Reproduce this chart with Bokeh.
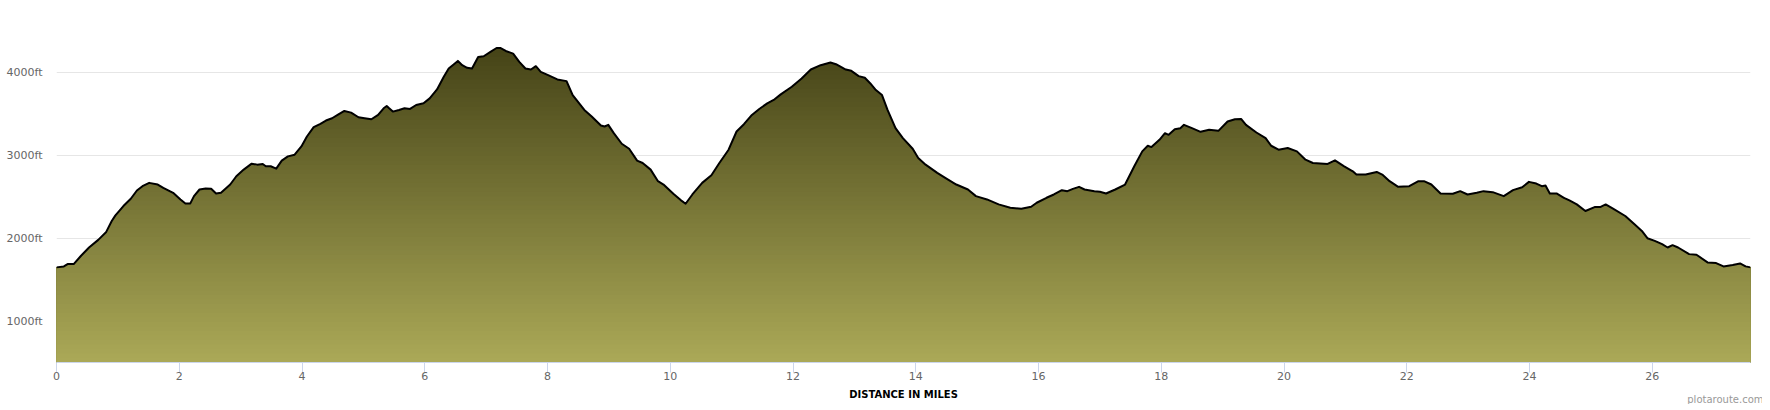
import numpy as np
from bokeh.plotting import figure
from bokeh.models import FixedTicker, PrintfTickFormatter, Range1d, Label
from bokeh.embed import file_html
from bokeh.resources import INLINE

distance_mi = [
    0.00, 0.12, 0.18, 0.28, 0.40, 0.53, 0.68, 0.81, 0.90, 0.96, 1.09, 1.21, 1.31, 1.40, 1.51, 1.65,
    1.74, 1.90, 2.02, 2.10, 2.18, 2.24, 2.33, 2.43, 2.52, 2.60, 2.68, 2.83, 2.93, 3.05, 3.18, 3.27,
    3.36, 3.41, 3.49, 3.58, 3.67, 3.77, 3.88, 3.99, 4.08, 4.19, 4.30, 4.39, 4.49, 4.58, 4.69, 4.80,
    4.92, 5.02, 5.13, 5.24, 5.33, 5.38, 5.42, 5.48, 5.58, 5.67, 5.76, 5.86, 5.98, 6.08, 6.20, 6.31,
    6.39, 6.47, 6.54, 6.61, 6.69, 6.77, 6.87, 6.96, 7.07, 7.17, 7.23, 7.32, 7.44, 7.54, 7.64, 7.73,
    7.81, 7.89, 8.01, 8.16, 8.31, 8.41, 8.60, 8.72, 8.87, 8.93, 8.99, 9.08, 9.21, 9.33, 9.46, 9.55,
    9.68, 9.80, 9.89, 10.05, 10.17, 10.25, 10.36, 10.52, 10.67, 10.80, 10.95, 11.08, 11.20, 11.33,
    11.45, 11.58, 11.70, 11.80, 11.98, 12.14, 12.29, 12.45, 12.61, 12.70, 12.86, 12.95, 13.07, 13.17,
    13.26, 13.35, 13.45, 13.54, 13.67, 13.79, 13.95, 14.04, 14.16, 14.35, 14.48, 14.66, 14.85, 14.98,
    15.16, 15.35, 15.54, 15.72, 15.88, 15.97, 16.13, 16.25, 16.38, 16.47, 16.56, 16.66, 16.75, 16.91,
    17.00, 17.10, 17.25, 17.41, 17.56, 17.69, 17.78, 17.84, 17.97, 18.06, 18.12, 18.22, 18.31, 18.37,
    18.50, 18.64, 18.78, 18.93, 19.08, 19.20, 19.30, 19.38, 19.55, 19.70, 19.79, 19.91, 20.06, 20.21,
    20.35, 20.47, 20.71, 20.83, 20.98, 21.12, 21.18, 21.33, 21.51, 21.60, 21.72, 21.86, 22.04, 22.19,
    22.28, 22.40, 22.55, 22.75, 22.87, 22.99, 23.14, 23.25, 23.40, 23.58, 23.73, 23.88, 23.99, 24.11,
    24.20, 24.26, 24.33, 24.44, 24.56, 24.65, 24.77, 24.91, 25.06, 25.15, 25.24, 25.36, 25.56, 25.71,
    25.83, 25.92, 26.04, 26.16, 26.25, 26.33, 26.42, 26.60, 26.72, 26.90, 27.04, 27.16, 27.31, 27.43,
    27.52, 27.60,
]

elevation_ft = [
    1648, 1660, 1688, 1688, 1788, 1888, 1980, 2076, 2208, 2276, 2388, 2476, 2576, 2628, 2668, 2648,
    2608, 2548, 2468, 2420, 2420, 2508, 2588, 2600, 2596, 2540, 2548, 2648, 2748, 2828, 2900, 2888,
    2896, 2868, 2868, 2840, 2936, 2988, 3008, 3108, 3228, 3340, 3380, 3420, 3448, 3488, 3536, 3516,
    3460, 3448, 3436, 3488, 3568, 3596, 3568, 3528, 3548, 3568, 3560, 3608, 3628, 3688, 3796, 3948,
    4048, 4096, 4140, 4088, 4056, 4048, 4188, 4196, 4248, 4296, 4296, 4260, 4228, 4128, 4048, 4036,
    4076, 4008, 3968, 3916, 3896, 3728, 3548, 3468, 3360, 3348, 3368, 3268, 3140, 3080, 2936, 2908,
    2828, 2688, 2648, 2536, 2460, 2416, 2528, 2668, 2760, 2908, 3068, 3288, 3376, 3488,
    3560, 3628, 3676, 3736, 3828, 3928, 4036, 4088, 4120, 4100, 4036, 4020, 3956, 3936,
    3868, 3788, 3728, 3548, 3328, 3208, 3080, 2968, 2888, 2788, 2728, 2648, 2588, 2508,
    2468, 2408, 2368, 2356, 2380, 2428, 2488, 2528, 2580, 2568, 2596, 2620, 2588, 2568,
    2560, 2540, 2588, 2648, 2868, 3048, 3116, 3100, 3188, 3268, 3248, 3316, 3328, 3368,
    3328, 3284, 3308, 3296, 3408, 3436, 3440, 3368, 3276, 3208, 3116, 3068, 3088, 3048,
    2948, 2908, 2896, 2940, 2868, 2808, 2768, 2768, 2800, 2768, 2688, 2620, 2628, 2688,
    2688, 2648, 2540, 2536, 2568, 2528, 2548, 2568, 2556, 2508, 2580, 2616, 2680, 2660,
    2628, 2636, 2540, 2540, 2488, 2456, 2408, 2328, 2376, 2376, 2408, 2356, 2268, 2168,
    2088, 2000, 1968, 1928, 1888, 1916, 1888, 1808, 1800, 1708, 1700, 1660, 1676, 1696,
    1660, 1648,
]

y_ticks = [1000, 2000, 3000, 4000]
x_ticks = list(range(0, 27, 2))
x_label = "DISTANCE IN MILES"
credit = "plotaroute.com"

dist = np.array(distance_mi)
elev = np.array(elevation_ft, dtype=float)

y_start, y_end = 500, 4700

p = figure(
    width=1762, height=404, title=None,
    x_range=Range1d(0, dist.max()), y_range=Range1d(y_start, y_end),
    output_backend="svg", toolbar_location=None,
    min_border_left=56, min_border_right=12, min_border_top=14, min_border_bottom=42,
)
p.outline_line_color = None
p.background_fill_color = "white"
p.border_fill_color = "white"

# gradient fill made of stacked areas (dark at the top, light at the bottom)
c_top = np.array([0x45, 0x43, 0x17], dtype=float)
c_bot = np.array([0xab, 0xa9, 0x57], dtype=float)
top = elev.max()
n_bands = 70
levels = np.linspace(y_start, top, n_bands + 1)
for k in range(n_bands, 0, -1):
    mid = 0.5 * (levels[k] + levels[k - 1])
    t = (mid - y_start) / (top - y_start)
    rgb = c_bot + t * (c_top - c_bot)
    col = "#%02x%02x%02x" % tuple(int(round(v)) for v in rgb)
    y2 = elev if k == n_bands else np.minimum(elev, levels[k])
    p.varea(x=dist, y1=y_start, y2=y2, fill_color=col, fill_alpha=1.0)

p.line(dist, elev, line_color="black", line_width=2, line_join="round")

# axes
xa = p.xaxis[0]
xa.ticker = FixedTicker(ticks=x_ticks)
xa.axis_line_color = "#ccd6eb"
xa.major_tick_line_color = "#ccd6eb"
xa.major_tick_out = 10
xa.major_tick_in = 0
xa.minor_tick_line_color = None
xa.major_label_text_color = "#666666"
xa.major_label_text_font = "DejaVu Sans"
xa.major_label_text_font_size = "11px"
xa.major_label_standoff = -1
xa.axis_label = x_label
xa.axis_label_text_font = "DejaVu Sans"
xa.axis_label_text_font_style = "bold"
xa.axis_label_text_font_size = "10px"
xa.axis_label_text_color = "black"
xa.axis_label_standoff = 6

ya = p.yaxis[0]
ya.ticker = FixedTicker(ticks=y_ticks)
ya.formatter = PrintfTickFormatter(format="%dft")
ya.axis_line_color = None
ya.major_tick_line_color = None
ya.minor_tick_line_color = None
ya.major_tick_out = 0
ya.major_tick_in = 0
ya.major_label_text_color = "#666666"
ya.major_label_text_font = "DejaVu Sans"
ya.major_label_text_font_size = "11px"
ya.major_label_standoff = 14

p.xgrid.grid_line_color = None
p.ygrid.ticker = FixedTicker(ticks=y_ticks)
p.ygrid.grid_line_color = "#e6e6e6"
p.ygrid.grid_line_width = 1

# credit text, placed in the top side panel so it is not clipped to the frame
p.add_layout(Label(
    x=1707, y=-385, x_units="screen", y_units="screen", text=credit,
    text_align="right", text_baseline="middle", text_color="#999999",
    text_font="DejaVu Sans", text_font_size="10px",
), "above")

open("out.html", "w").write(file_html(p, INLINE))
